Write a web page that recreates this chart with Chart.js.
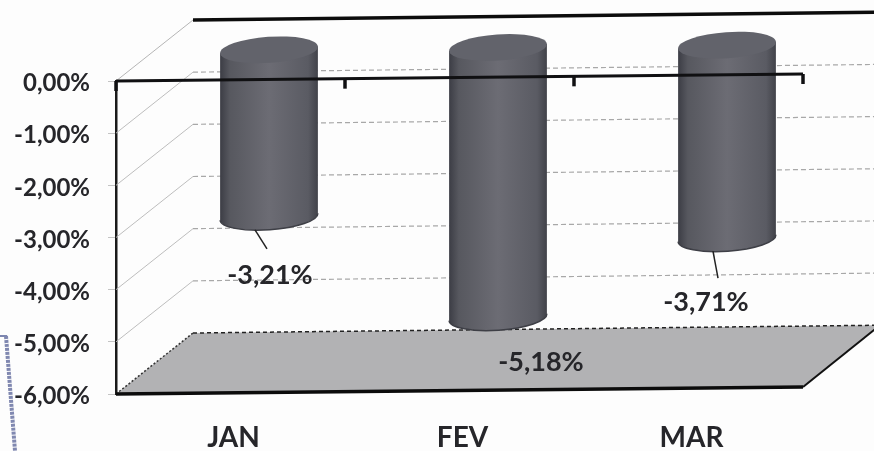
<!DOCTYPE html>
<html>
<head>
<meta charset="utf-8">
<title>JAN FEV MAR</title>
<script src="https://cdn.jsdelivr.net/npm/chart.js@4/dist/chart.umd.min.js"></script>
<style>
  html, body { margin: 0; padding: 0; background: #fdfdfd; }
  #wrap { width: 874px; height: 451px; position: relative; overflow: hidden; }
  canvas { filter: blur(0.4px); }
</style>
</head>
<body>
<div id="wrap"><canvas id="chart" width="874" height="451"></canvas></div>
<script>
const categories = ['JAN', 'FEV', 'MAR'];
const values = [-3.21, -5.18, -3.71];
const yTicks = [0, -1, -2, -3, -4, -5, -6];
const yTickLabels = ['0,00%', '-1,00%', '-2,00%', '-3,00%', '-4,00%', '-5,00%', '-6,00%'];

const INK = '#26262a';
const FONT = 'Lato, "Open Sans", sans-serif';
const TILT = 0.0102;      // the whole scan leans a bit, right side higher
const DEPTH_X = 77;
const DEPTH_Y = -61;

// offsets of the data labels and leader lines from the bottom of each cylinder
const labelOffsets = [
  { x: 1, y: 46, lead: [-14, 0, -2, 19] },
  { x: 43, y: 32, lead: null },
  { x: -21, y: 51, lead: [-14, 0, -9, 27] }
];

function fmtPct(v) {
  return v.toFixed(2).replace('.', ',') + '%';
}

function line(ctx, x1, y1, x2, y2, color, width, dash) {
  ctx.save();
  ctx.strokeStyle = color;
  ctx.lineWidth = width;
  ctx.setLineDash(dash || []);
  ctx.beginPath();
  ctx.moveTo(x1, y1);
  ctx.lineTo(x2, y2);
  ctx.stroke();
  ctx.restore();
}

// Walls and floor go behind the bars
const wallsPlugin = {
  id: 'walls',
  beforeDatasetsDraw(chart) {
    const { ctx, chartArea: a, scales: { y } } = chart;
    const lean = x => (x - a.left) * TILT;
    const bottom = y.getPixelForValue(-6);
    const backL = a.left + DEPTH_X;
    const backR = a.right + DEPTH_X;

    // floor
    ctx.save();
    ctx.fillStyle = '#b2b2b4';
    ctx.beginPath();
    ctx.moveTo(a.left, bottom);
    ctx.lineTo(backL, bottom + DEPTH_Y);
    ctx.lineTo(backR, bottom + DEPTH_Y - lean(backR));
    ctx.lineTo(a.right, bottom - lean(a.right));
    ctx.closePath();
    ctx.fill();
    ctx.restore();

    yTicks.forEach(t => {
      const py = y.getPixelForValue(t);
      if (t === -6) {
        line(ctx, a.left, py, backL, py + DEPTH_Y, '#333', 1.5, [2, 2]);
        line(ctx, backL, py + DEPTH_Y, backR, py + DEPTH_Y - lean(backR), '#222', 1.5, [4, 3]);
      } else if (t === 0) {
        line(ctx, a.left, py, backL, py + DEPTH_Y, '#b5b5b5', 1);
        line(ctx, backL, py + DEPTH_Y, backR, py + DEPTH_Y - lean(backR), '#0c0c0c', 3.5);
      } else {
        line(ctx, a.left, py, backL, py + DEPTH_Y, '#bdbdbd', 1);
        line(ctx, backL, py + DEPTH_Y, backR, py + DEPTH_Y - lean(backR), '#a8a8a8', 1.2, [5, 3]);
      }
    });

    // scanned stamp edge on the far left
    line(ctx, 0, 336, 7, 336, '#7c86b0', 2);
    line(ctx, 6, 336, 15, 451, '#8088b0', 4, [3, 1]);
  }
};

// Cylinders, drawn from the bar elements of the chart
const cylinderPlugin = {
  id: 'cylinders',
  afterDatasetsDraw(chart) {
    const { ctx, chartArea: a, scales: { y } } = chart;
    const meta = chart.getDatasetMeta(0);
    const rot = -0.07;

    meta.data.forEach(bar => {
      const cx = bar.x + DEPTH_X / 2;
      const shift = DEPTH_Y / 2 - (bar.x - a.left) * TILT;
      const topY = bar.base + shift;
      const botY = bar.y + shift;
      const rx = bar.width / 2;
      const ry = 13;
      const ex = rx * Math.cos(rot);
      const ey = rx * Math.sin(rot);

      const grad = ctx.createLinearGradient(cx - ex, 0, cx + ex, 0);
      grad.addColorStop(0, '#3c3d45');
      grad.addColorStop(0.1, '#57585f');
      grad.addColorStop(0.5, '#6c6c74');
      grad.addColorStop(0.9, '#5a5b63');
      grad.addColorStop(1, '#414249');

      ctx.save();
      ctx.fillStyle = grad;
      ctx.beginPath();
      ctx.moveTo(cx - ex, topY - ey);
      ctx.lineTo(cx - ex, botY - ey);
      ctx.ellipse(cx, botY, rx, ry, rot, Math.PI, 0, true);
      ctx.lineTo(cx + ex, topY + ey);
      ctx.closePath();
      ctx.fill();

      // lid
      ctx.fillStyle = '#62636b';
      ctx.beginPath();
      ctx.ellipse(cx, topY, rx, ry, rot, 0, Math.PI * 2);
      ctx.fill();

      // dark rim under the cylinder
      ctx.strokeStyle = '#3e3f46';
      ctx.lineWidth = 1.5;
      ctx.beginPath();
      ctx.ellipse(cx, botY, rx, ry, rot, Math.PI, 0, true);
      ctx.stroke();
      ctx.restore();
    });

    // front axis goes over the cylinders
    const zero = y.getPixelForValue(0);
    const bottom = y.getPixelForValue(-6);
    const lean = x => (x - a.left) * TILT;
    line(ctx, a.left, zero, a.right, zero - lean(a.right), '#101012', 3.2);
    line(ctx, a.left, bottom, a.right, bottom - lean(a.right), '#0c0c0c', 3.5);
    line(ctx, a.right, bottom - lean(a.right), a.right + DEPTH_X, bottom + DEPTH_Y - lean(a.right + DEPTH_X), '#111', 2);

    const step = (a.right - a.left) / categories.length;
    for (let i = 0; i <= categories.length; i++) {
      const tx = a.left + step * i;
      const ty = zero - lean(tx);
      line(ctx, tx, ty, tx, ty + 10, '#101012', 3.5);
    }

    // leader lines and value labels
    ctx.save();
    ctx.font = 'bold 27px ' + FONT;
    ctx.fillStyle = INK;
    ctx.textAlign = 'center';
    ctx.textBaseline = 'middle';
    meta.data.forEach((bar, i) => {
      const cx = bar.x + DEPTH_X / 2;
      const base = bar.y + DEPTH_Y / 2 - (bar.x - a.left) * TILT + 13;
      const o = labelOffsets[i];
      if (o.lead) {
        line(ctx, cx + o.lead[0], base + o.lead[1], cx + o.lead[2], base + o.lead[3], '#222', 1.5);
      }
      ctx.fillText(fmtPct(values[i]), cx + o.x, base + o.y);
    });
    ctx.restore();
  }
};

new Chart(document.getElementById('chart'), {
  type: 'bar',
  data: {
    labels: categories,
    datasets: [{
      data: values,
      backgroundColor: 'rgba(0,0,0,0)',
      barPercentage: 1,
      categoryPercentage: 0.428
    }]
  },
  options: {
    responsive: false,
    animation: false,
    layout: { padding: { top: 81, right: 71, left: 0, bottom: 0 } },
    plugins: { legend: { display: false }, tooltip: { enabled: false }, title: { display: false } },
    scales: {
      x: {
        position: 'bottom',
        afterFit: s => { s.height = 57; },
        grid: { display: false },
        border: { display: false },
        ticks: { color: INK, font: { family: FONT, size: 28, weight: 'bold' }, padding: 19, maxRotation: 0, labelOffset: 3 }
      },
      y: {
        min: -6,
        max: 0,
        afterFit: s => { s.width = 116; },
        grid: { drawOnChartArea: false, color: '#c4c4c4', tickLength: 8 },
        border: { display: true, color: '#1a1a1a', width: 2.5 },
        ticks: {
          stepSize: 1,
          padding: 18,
          labelOffset: 2.5,
          color: INK,
          font: { family: FONT, size: 24, weight: 'bold' },
          callback: v => yTickLabels[yTicks.indexOf(v)]
        }
      }
    }
  },
  plugins: [wallsPlugin, cylinderPlugin]
});
</script>
</body>
</html>
